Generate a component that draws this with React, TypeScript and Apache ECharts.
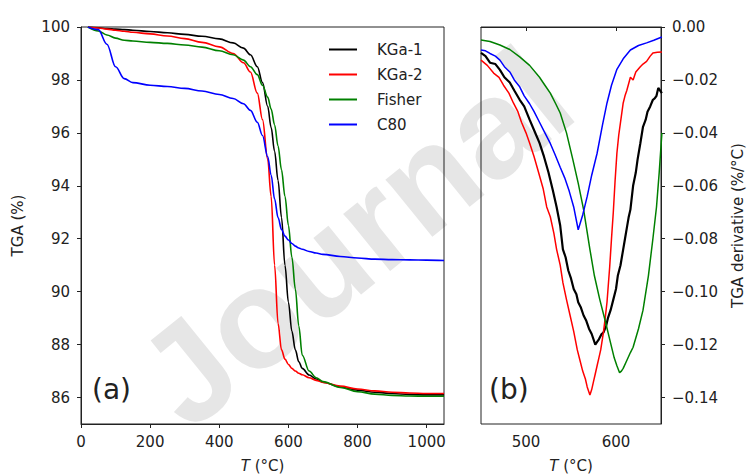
import React, { useEffect, useRef } from "react";
import * as echarts from "echarts";

// ---- Panel (a): TGA curves ----
const tgaT = [20, 50, 75, 100, 125, 150, 200, 250, 300, 350, 400, 440, 470, 490, 510, 525, 540, 550, 560, 570, 580, 590, 600, 610, 620, 630, 640, 660, 680, 700, 750, 800, 850, 900, 950, 1000, 1050];
const kga1Tga = [100, 99.97, 99.94, 99.92, 99.9, 99.88, 99.83, 99.78, 99.72, 99.65, 99.55, 99.4, 99.2, 98.95, 98.5, 97.9, 97.0, 96.2, 95.3, 94.2, 92.8, 91.0, 89.6, 88.5, 87.8, 87.35, 87.1, 86.85, 86.7, 86.58, 86.4, 86.28, 86.2, 86.15, 86.12, 86.1, 86.1];
const kga2Tga = [100, 99.96, 99.92, 99.88, 99.84, 99.8, 99.74, 99.66, 99.56, 99.42, 99.25, 99.0, 98.65, 98.3, 97.5, 96.5, 95.0, 93.6, 91.0, 88.8, 87.8, 87.45, 87.25, 87.1, 87.0, 86.92, 86.86, 86.75, 86.65, 86.57, 86.43, 86.32, 86.25, 86.2, 86.17, 86.15, 86.15];
const fisherTga = [100, 99.85, 99.7, 99.58, 99.5, 99.47, 99.42, 99.38, 99.32, 99.24, 99.1, 98.95, 98.75, 98.5, 98.2, 97.8, 97.35, 96.9, 96.3, 95.5, 94.6, 93.6, 92.5, 91.3, 90.1, 88.7, 87.6, 87.0, 86.75, 86.6, 86.38, 86.22, 86.13, 86.08, 86.06, 86.05, 86.05];
const c80Tga = [100, 99.9, 99.35, 98.5, 98.05, 97.9, 97.8, 97.75, 97.68, 97.58, 97.45, 97.3, 97.1, 96.85, 96.4, 95.9, 95.1, 94.4, 93.5, 92.8, 92.35, 92.1, 91.95, 91.82, 91.72, 91.65, 91.6, 91.52, 91.46, 91.41, 91.33, 91.27, 91.23, 91.21, 91.2, 91.19, 91.18];

// ---- Panel (b): derivative curves ----
const kga1DerT = [450, 455, 460, 466, 471, 476, 482, 487, 493, 498, 504, 509, 515, 520, 525, 530, 534, 538, 541, 544, 547, 550, 553, 556, 558, 561, 564, 567, 570, 573, 577, 579, 581, 584, 586, 589, 591, 594, 597, 600, 602, 605, 608, 610, 612, 614, 616, 619, 622, 624, 627, 630, 633, 635, 638, 641, 643, 645, 647, 649, 651];
const kga1Der = [-0.0098, -0.011, -0.0135, -0.014, -0.0162, -0.019, -0.021, -0.024, -0.0275, -0.030, -0.035, -0.039, -0.0438, -0.049, -0.055, -0.062, -0.068, -0.075, -0.084, -0.087, -0.092, -0.095, -0.099, -0.101, -0.104, -0.106, -0.109, -0.111, -0.114, -0.116, -0.120, -0.119, -0.118, -0.116, -0.1155, -0.113, -0.110, -0.107, -0.103, -0.099, -0.094, -0.090, -0.084, -0.080, -0.076, -0.072, -0.069, -0.060, -0.055, -0.050, -0.044, -0.0377, -0.035, -0.032, -0.030, -0.0275, -0.027, -0.026, -0.023, -0.024, -0.025];

const kga2DerT = [450, 457, 464, 470, 475, 481, 486, 491, 495, 500, 504, 509, 514, 519, 523, 527, 531, 534, 538, 541, 545, 549, 553, 557, 560, 563, 566, 568, 571, 573, 575, 577, 579, 581, 583, 586, 588, 590, 593, 595, 597, 599, 601, 603, 605, 608, 610, 612, 616, 619, 622, 627, 630, 634, 638, 641, 646, 651];
const kga2Der = [-0.0125, -0.0145, -0.0174, -0.019, -0.022, -0.025, -0.0287, -0.032, -0.036, -0.040, -0.0438, -0.049, -0.055, -0.061, -0.068, -0.0717, -0.078, -0.084, -0.090, -0.0966, -0.103, -0.109, -0.115, -0.122, -0.126, -0.130, -0.133, -0.136, -0.139, -0.137, -0.134, -0.131, -0.128, -0.125, -0.122, -0.1155, -0.110, -0.104, -0.0906, -0.080, -0.070, -0.058, -0.0477, -0.041, -0.036, -0.0287, -0.026, -0.024, -0.019, -0.020, -0.017, -0.015, -0.014, -0.013, -0.011, -0.0098, -0.0095, -0.0094];

const fisherDerT = [450, 460, 471, 482, 493, 504, 515, 521, 527, 533, 538, 545, 552, 558, 564, 571, 576, 582, 588, 593, 598, 601, 604, 606, 608, 612, 616, 619, 625, 630, 636, 641, 645, 648, 651];
const fisherDer = [-0.0049, -0.0055, -0.0068, -0.0085, -0.0113, -0.0145, -0.019, -0.022, -0.025, -0.029, -0.0325, -0.040, -0.050, -0.059, -0.069, -0.084, -0.094, -0.103, -0.111, -0.118, -0.125, -0.128, -0.1306, -0.130, -0.129, -0.126, -0.123, -0.121, -0.114, -0.107, -0.094, -0.080, -0.068, -0.055, -0.040];

const c80DerT = [450, 455, 460, 466, 471, 476, 482, 487, 493, 498, 504, 509, 515, 521, 527, 532, 538, 543, 548, 553, 558, 563, 568, 573, 579, 585, 590, 595, 601, 608, 616, 625, 634, 642, 651];
const c80Der = [-0.0087, -0.009, -0.010, -0.011, -0.0125, -0.015, -0.017, -0.020, -0.0226, -0.026, -0.029, -0.032, -0.036, -0.040, -0.044, -0.048, -0.053, -0.057, -0.062, -0.068, -0.0766, -0.071, -0.064, -0.056, -0.0477, -0.037, -0.0287, -0.022, -0.016, -0.012, -0.0087, -0.007, -0.006, -0.005, -0.0038];

const seriesNames = ["KGa-1", "KGa-2", "Fisher", "C80"];
const seriesColors = ["#000000", "#ff0000", "#008000", "#0000ff"];
const tgaXTicks = [0, 200, 400, 600, 800, 1000];
const tgaTicks = [86, 88, 90, 92, 94, 96, 98, 100];
const derTicks = [-0.14, -0.12, -0.1, -0.08, -0.06, -0.04, -0.02, 0];
const derXTicks = [500, 600];

const FONT = "DejaVu Sans";
const TXT = "#222";
const FS = 15;

export default function App() {
  const ref = useRef<HTMLDivElement>(null);
  useEffect(() => {
    if (!ref.current) return;
    const chart = echarts.init(ref.current, undefined, { renderer: "svg" });
    const tgaSets = [kga1Tga, kga2Tga, fisherTga, c80Tga];
    const derSets: [number[], number[]][] = [
      [kga1DerT, kga1Der],
      [kga2DerT, kga2Der],
      [fisherDerT, fisherDer],
      [c80DerT, c80Der],
    ];
    const fmtDer = (v: number) => {
      const r = Math.round(v * 100) / 100;
      return (r < 0 ? "\u2212" : "") + Math.abs(r).toFixed(2);
    };
    const axisLineStyle = { color: "#222", width: 1 };
    const labelStyle = { fontSize: FS, color: TXT, fontFamily: FONT };
    const xName = {
      name: "{i|T} (°C)",
      nameLocation: "middle",
      nameGap: 34,
      nameTextStyle: { ...labelStyle, rich: { i: { ...labelStyle, fontStyle: "italic" } } },
    };
    const series: any[] = [];
    tgaSets.forEach((d, i) => {
      series.push({
        name: seriesNames[i],
        type: "line",
        xAxisIndex: 0,
        yAxisIndex: 0,
        data: tgaT.map((t, k) => [t, d[k]]),
        symbol: "none",
        smooth: 0.35,
        smoothMonotone: "x",
        lineStyle: { color: seriesColors[i], width: 1.6 },
        itemStyle: { color: seriesColors[i] },
        z: 3,
      });
    });
    derSets.forEach(([t, d], i) => {
      series.push({
        name: seriesNames[i],
        type: "line",
        xAxisIndex: 1,
        yAxisIndex: 1,
        data: t.map((x, k) => [x, d[k]]),
        symbol: "none",
        lineStyle: { color: seriesColors[i], width: i === 0 ? 2.2 : 1.5 },
        itemStyle: { color: seriesColors[i] },
        z: 3,
      });
    });
    chart.setOption({
      animation: false,
      backgroundColor: "#fff",
      textStyle: { fontFamily: FONT },
      graphic: [
        {
          type: "text",
          x: 355,
          y: 237,
          rotation: 0.68,
          z: -10,
          silent: true,
          style: {
            text: "Journal",
            font: `bold 140px "Liberation Sans"`,
            fill: "#e6e6e6",
            textAlign: "center",
            textVerticalAlign: "middle",
          },
        },
        {
          type: "text",
          x: 92,
          y: 389,
          style: { text: "(a)", font: `28px "${FONT}"`, fill: TXT, textVerticalAlign: "middle" },
          z: 10,
        },
        {
          type: "text",
          x: 489,
          y: 389,
          style: { text: "(b)", font: `28px "${FONT}"`, fill: TXT, textVerticalAlign: "middle" },
          z: 10,
        },
      ],
      legend: {
        data: seriesNames,
        orient: "vertical",
        left: 329,
        top: 42,
        itemWidth: 28,
        itemHeight: 2,
        itemGap: 10,
        icon: "rect",
        padding: 0,
        textStyle: { ...labelStyle, padding: [0, 0, 0, 15] },
      },
      grid: [
        { left: 81, top: 27, width: 363, height: 397, show: true, borderColor: "#222", borderWidth: 1, backgroundColor: "transparent", outerBoundsMode: "none", containLabel: false },
        { left: 481, top: 27, width: 180, height: 397, show: true, borderColor: "#222", borderWidth: 1, backgroundColor: "transparent", outerBoundsMode: "none", containLabel: false },
      ],
      xAxis: [
        {
          type: "value",
          gridIndex: 0,
          min: 0,
          max: 1050,
          splitLine: { show: false },
          axisLine: { show: true, lineStyle: axisLineStyle },
          axisTick: { show: true, length: 4, lineStyle: axisLineStyle, customValues: tgaXTicks },
          axisLabel: { ...labelStyle, margin: 10, customValues: tgaXTicks, formatter: (v: number) => String(v) },
          ...xName,
        },
        {
          type: "value",
          gridIndex: 1,
          min: 450,
          max: 650,
          splitLine: { show: false },
          axisLine: { show: true, lineStyle: axisLineStyle },
          axisTick: { show: true, length: 4, lineStyle: axisLineStyle, customValues: derXTicks },
          axisLabel: { ...labelStyle, margin: 10, customValues: derXTicks, formatter: (v: number) => String(v) },
          ...xName,
        },
      ],
      yAxis: [
        {
          type: "value",
          gridIndex: 0,
          min: 85,
          max: 100,
          splitLine: { show: false },
          axisLine: { show: true, lineStyle: axisLineStyle },
          axisTick: { show: true, length: 4, lineStyle: axisLineStyle, customValues: tgaTicks },
          axisLabel: { ...labelStyle, margin: 11, customValues: tgaTicks, formatter: (v: number) => String(v) },
          name: "TGA (%)",
          nameLocation: "middle",
          nameGap: 56,
          nameRotate: 90,
          nameTextStyle: labelStyle,
        },
        {
          type: "value",
          gridIndex: 1,
          position: "right",
          min: -0.15,
          max: 0,
          splitLine: { show: false },
          axisLine: { show: true, lineStyle: axisLineStyle },
          axisTick: { show: true, length: 4, lineStyle: axisLineStyle, customValues: derTicks },
          axisLabel: { ...labelStyle, margin: 11, customValues: derTicks, formatter: fmtDer },
          name: "TGA derivative (%/°C)",
          nameLocation: "middle",
          nameGap: 69,
          nameRotate: 90,
          nameTextStyle: labelStyle,
        },
      ],
      series,
    });
    return () => chart.dispose();
  }, []);
  return <div ref={ref} style={{ position: "absolute", left: 0, top: 0, width: 747, height: 474 }} />;
}
